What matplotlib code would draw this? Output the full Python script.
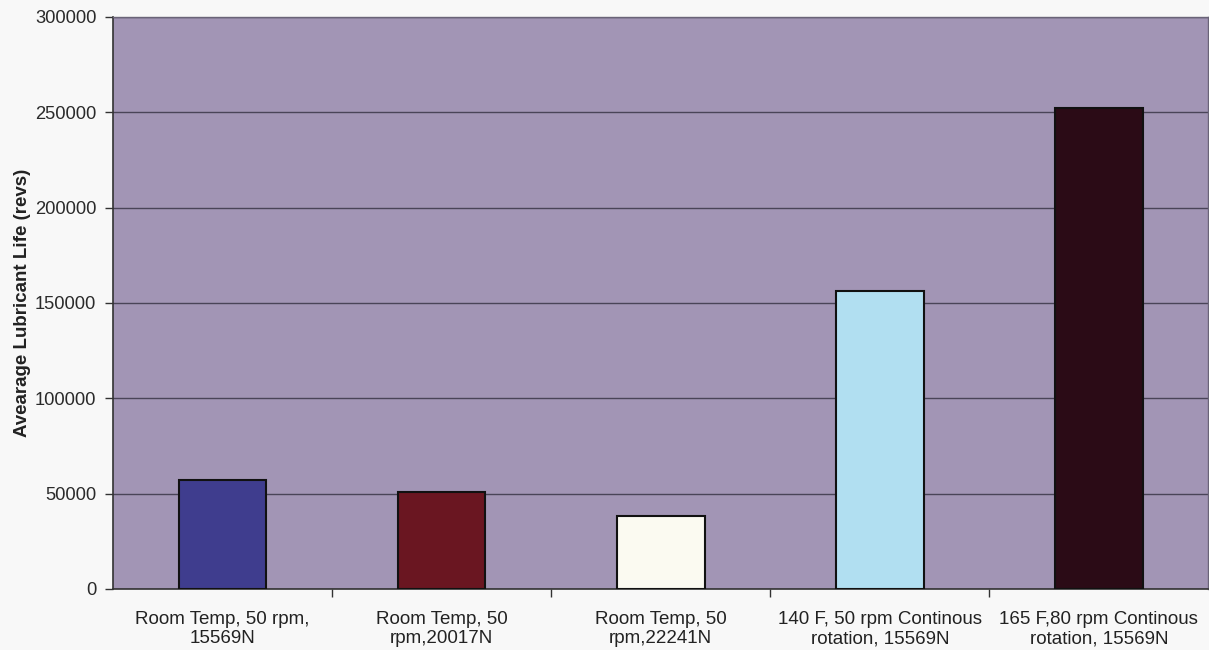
import numpy as np
import matplotlib.pyplot as plt
from matplotlib.ticker import FixedLocator

plt.rcParams['font.family'] = ['Liberation Sans', 'DejaVu Sans']

# test conditions and measured lubricant life
conditions = [
    'Room Temp, 50 rpm,\n15569N',
    'Room Temp, 50\nrpm,20017N',
    'Room Temp, 50\nrpm,22241N',
    '140 F, 50 rpm Continous\nrotation, 15569N',
    '165 F,80 rpm Continous\nrotation, 15569N',
]
life_revs = [57000, 51000, 38000, 156000, 252000]
bar_colors = ['#3f3d8e', '#6a1621', '#fbfaf1', '#b1dff1', '#2b0b16']
y_ticks = [0, 50000, 100000, 150000, 200000, 250000, 300000]

fig = plt.figure(figsize=(12.09, 6.5), dpi=100, facecolor='#f8f8f8')
ax = fig.add_axes([0.0935, 0.094, 0.906, 0.880])
ax.set_facecolor('#a295b5')

x = np.arange(len(conditions))
ax.bar(x, life_revs, width=0.4, color=bar_colors, edgecolor='#111111',
       linewidth=1.5, zorder=3)

ax.set_xlim(-0.5, len(conditions) - 0.5)
ax.set_ylim(0, 300000)
ax.set_yticks(y_ticks)
ax.set_yticklabels([str(v) for v in y_ticks])
ax.yaxis.grid(True, color='#4a4458', linewidth=1.0, zorder=1)

# category labels centred, tick marks on the boundaries
ax.set_xticks(x)
ax.set_xticklabels(conditions, linespacing=1.15)
ax.xaxis.set_minor_locator(FixedLocator(np.arange(0.5, len(conditions) - 0.5, 1)))
ax.tick_params(axis='x', which='major', length=0, pad=16, labelsize=13.5, colors='#222222')
ax.tick_params(axis='x', which='minor', length=6, width=1, color='#333333')
ax.tick_params(axis='y', length=6, width=1, labelsize=13.2, colors='#333333',
               labelcolor='#2a2a2a', pad=6)

ax.set_ylabel('Avearage Lubricant Life (revs)', fontsize=13.5, fontweight='bold',
              color='#222222', labelpad=3)

for side in ['left', 'bottom']:
    ax.spines[side].set_color('#333333')
    ax.spines[side].set_linewidth(1.2)
for side in ['top', 'right']:
    ax.spines[side].set_color('#6a6478')
    ax.spines[side].set_linewidth(1.0)

fig.savefig('out.png', dpi=100, facecolor=fig.get_facecolor())
